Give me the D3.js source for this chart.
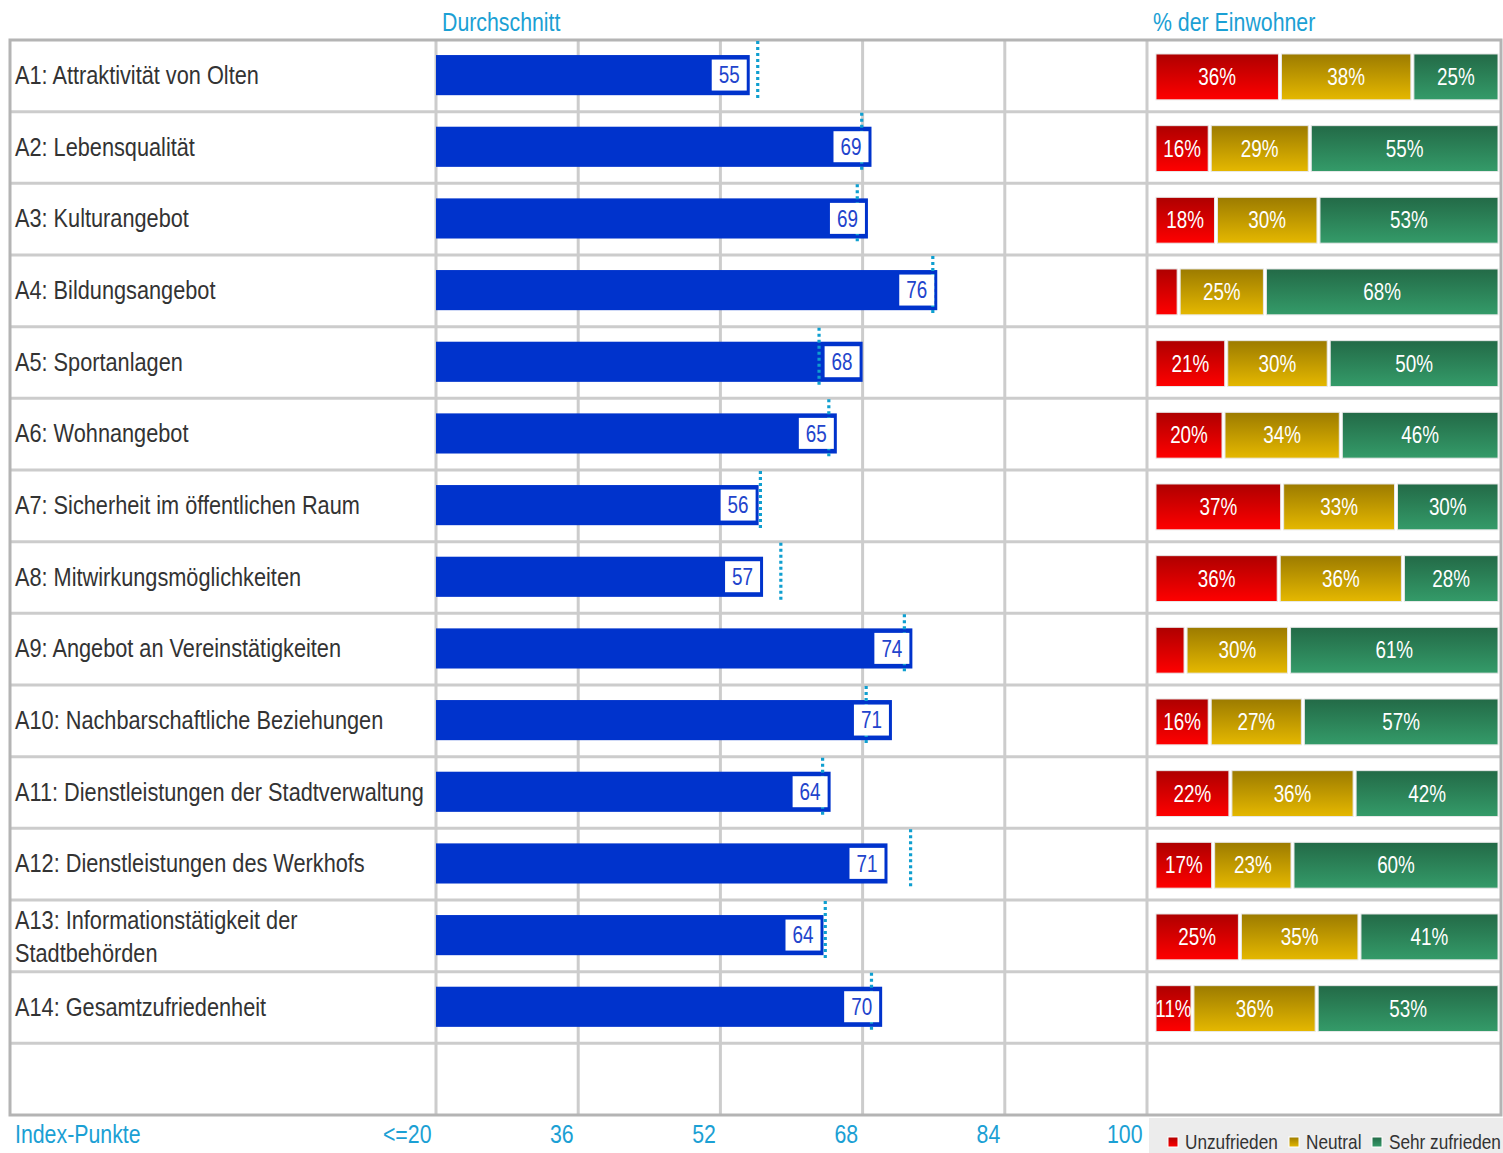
<!DOCTYPE html>
<html>
<head>
<meta charset="utf-8">
<script src="https://cdn.jsdelivr.net/npm/d3@7"></script>
<style>
  html, body { margin: 0; padding: 0; background: #ffffff; }
  svg { display: block; }
  text { font-family: "Liberation Sans", Arial, sans-serif; }
</style>
</head>
<body>
<svg id="chart" width="1503" height="1153"></svg>
<script>
// ---------- data ----------
const categories = [
  "A1: Attraktivität von Olten",
  "A2: Lebensqualität",
  "A3: Kulturangebot",
  "A4: Bildungsangebot",
  "A5: Sportanlagen",
  "A6: Wohnangebot",
  "A7: Sicherheit im öffentlichen Raum",
  "A8: Mitwirkungsmöglichkeiten",
  "A9: Angebot an Vereinstätigkeiten",
  "A10: Nachbarschaftliche Beziehungen",
  "A11: Dienstleistungen der Stadtverwaltung",
  "A12: Dienstleistungen des Werkhofs",
  "A13: Informationstätigkeit der Stadtbehörden",
  "A14: Gesamtzufriedenheit"
];
const indexValues   = [55.3, 69.0, 68.6, 76.4, 68.0, 65.1, 56.3, 56.8, 73.6, 71.3, 64.4, 70.8, 63.6, 70.2];
const averageValues = [56.2, 67.9, 67.4, 75.9, 63.1, 64.2, 56.5, 58.8, 72.7, 68.4, 63.5, 73.4, 63.8, 69.0];
const unzufrieden   = [36, 16, 18, 7, 21, 20, 37, 36, 9, 16, 22, 17, 25, 11];
const neutral       = [38, 29, 30, 25, 30, 34, 33, 36, 30, 27, 36, 23, 35, 36];
const sehrZufrieden = [25, 55, 53, 68, 50, 46, 30, 28, 61, 57, 42, 60, 41, 53];
const xTickValues = [20, 36, 52, 68, 84, 100];
const xTickLabels = ["<=20", "36", "52", "68", "84", "100"];
const legendLabels = ["Unzufrieden", "Neutral", "Sehr zufrieden"];
const titleIndex = "Durchschnitt";
const titleShare = "% der Einwohner";
const axisTitle = "Index-Punkte";

// ---------- layout ----------
const svg = d3.select("#chart");
const frame = { left: 10, right: 1501, top: 40, bottom: 1115 };
const cyan = "#1ba0d4";
const gridCol = "#cccccc";
const NARROW = 0.82;

// condense text horizontally (Arial-Narrow look)
function narrow(sel) {
  sel.each(function () {
    const t = d3.select(this);
    if (t.attr("x") != null) t.attr("x", +t.attr("x") / NARROW);
    if (t.attr("dx") != null) t.attr("dx", parseFloat(t.attr("dx")) / NARROW);
    t.attr("transform", `scale(${NARROW},1)`);
    t.selectAll("tspan").each(function () {
      const s = d3.select(this);
      if (s.attr("x") != null) s.attr("x", +s.attr("x") / NARROW);
    });
  });
  return sel;
}

const x = d3.scaleLinear().domain([20, 100]).range([436, 1147]);
const rows = d3.range(categories.length + 1);
const y = d3.scaleBand().domain(rows).range([frame.top, frame.bottom]).paddingInner(0).paddingOuter(0);
const bw = y.bandwidth();

// gradients
const defs = svg.append("defs");
const grads = [
  { id: "gRed", top: "#ae0000", bottom: "#ff0000" },
  { id: "gYel", top: "#9c7b00", bottom: "#e5b800" },
  { id: "gGrn", top: "#236a47", bottom: "#349b69" }
];
grads.forEach(g => {
  const lg = defs.append("linearGradient").attr("id", g.id)
    .attr("x1", 0).attr("y1", 0).attr("x2", 0).attr("y2", 1);
  lg.append("stop").attr("offset", "0%").attr("stop-color", g.top);
  lg.append("stop").attr("offset", "100%").attr("stop-color", g.bottom);
});

// row lines
svg.append("g").selectAll("line").data(rows.slice(1)).join("line")
  .attr("x1", frame.left).attr("x2", frame.right)
  .attr("y1", d => y(d)).attr("y2", d => y(d))
  .attr("stroke", gridCol).attr("stroke-width", 3);

// vertical grid lines
svg.append("g").selectAll("line").data(xTickValues).join("line")
  .attr("x1", d => x(d)).attr("x2", d => x(d))
  .attr("y1", frame.top).attr("y2", frame.bottom)
  .attr("stroke", gridCol).attr("stroke-width", 3);

// outer frame
svg.append("rect")
  .attr("x", frame.left).attr("y", frame.top)
  .attr("width", frame.right - frame.left).attr("height", frame.bottom - frame.top)
  .attr("fill", "none").attr("stroke", "#b4b4b4").attr("stroke-width", 3);

// category labels
const labelG = svg.append("g");
categories.forEach((c, i) => {
  const t = labelG.append("text")
    .attr("x", 15).attr("fill", "#333333").attr("font-size", 26.5)
    .attr("dominant-baseline", "central");
  t.text(c);
  const cy = y(i) + bw / 2;
  if (t.node().getComputedTextLength() * NARROW > 418) {
    const words = c.split(" ");
    const line2 = words.pop();
    t.text(null);
    t.append("tspan").attr("x", 15).attr("y", cy - 17).text(words.join(" "));
    t.append("tspan").attr("x", 15).attr("y", cy + 16).text(line2);
  } else {
    t.attr("y", cy - 1);
  }
  narrow(t);
});

// index bars
const barY = i => y(i) + bw * 0.21;
const barH = bw * 0.56;
svg.append("g").selectAll("rect").data(indexValues).join("rect")
  .attr("x", x(20)).attr("y", (d, i) => barY(i))
  .attr("width", d => x(d) - x(20)).attr("height", barH)
  .attr("fill", "#0033cc");

// average dotted lines
svg.append("g").selectAll("line").data(averageValues).join("line")
  .attr("x1", d => x(d)).attr("x2", d => x(d))
  .attr("y1", (d, i) => y(i) + 1).attr("y2", (d, i) => y(i) + bw * 0.84)
  .attr("stroke", "#0f9fd0").attr("stroke-width", 3.2)
  .attr("stroke-dasharray", "3,3");

// value boxes
const boxW = 35, boxH = 31;
const boxes = svg.append("g").selectAll("g").data(indexValues).join("g");
boxes.append("rect")
  .attr("x", d => x(d) - 3 - boxW).attr("y", (d, i) => barY(i) + 4.5)
  .attr("width", boxW).attr("height", boxH).attr("fill", "#ffffff");
narrow(boxes.append("text")
  .attr("x", d => x(d) - 3 - boxW / 2).attr("y", (d, i) => barY(i) + 4.5 + boxH / 2)
  .attr("text-anchor", "middle").attr("dominant-baseline", "central")
  .attr("font-size", 23).attr("fill", "#2244cc")
  .text(d => d3.format(".0f")(d)));

// stacked share bars
const shareSeries = [unzufrieden, neutral, sehrZufrieden];
const fills = ["url(#gRed)", "url(#gYel)", "url(#gGrn)"];
const stackRows = categories.map((c, i) => {
  const vals = shareSeries.map(s => s[i]);
  const total = d3.sum(vals);
  const sx = d3.scaleLinear().domain([0, total]).range([1156, 1501]);
  let acc = 0;
  return vals.map((v, k) => { const s = { i, k, v, x0: sx(acc), x1: sx(acc + v) }; acc += v; return s; });
}).flat();
const stackG = svg.append("g");
stackG.selectAll("rect").data(stackRows).join("rect")
  .attr("x", d => d.x0).attr("y", d => y(d.i) + bw * 0.195)
  .attr("width", d => d.x1 - d.x0 - 3).attr("height", bw * 0.64)
  .attr("fill", d => fills[d.k])
  .attr("stroke", "#e8e8e8").attr("stroke-width", 1);
narrow(stackG.selectAll("text").data(stackRows.filter(d => d.v >= 10)).join("text")
  .attr("x", d => (d.x0 + d.x1 - 3) / 2).attr("y", d => y(d.i) + bw * 0.195 + bw * 0.32)
  .attr("text-anchor", "middle").attr("dominant-baseline", "central")
  .attr("font-size", 23).attr("fill", "#ffffff")
  .text(d => d.v + "%"));

// headers
narrow(svg.append("text").attr("x", 442).attr("y", 31).attr("font-size", 26).attr("fill", cyan).text(titleIndex));
narrow(svg.append("text").attr("x", 1153).attr("y", 31).attr("font-size", 26).attr("fill", cyan).text(titleShare));

// x axis
const axis = d3.axisBottom(x).tickValues(xTickValues)
  .tickFormat((d, i) => xTickLabels[i]).tickSize(0).tickPadding(0);
const axG = svg.append("g").attr("transform", `translate(0,${frame.bottom})`).call(axis);
axG.select(".domain").remove();
narrow(axG.selectAll("text")
  .attr("text-anchor", "end").attr("x", 0).attr("dx", -5).attr("y", 28).attr("dy", 0)
  .attr("font-size", 26).attr("fill", cyan)
  .style("font-family", '"Liberation Sans", Arial, sans-serif'));
narrow(svg.append("text").attr("x", 15).attr("y", 1143).attr("font-size", 26).attr("fill", cyan).text(axisTitle));

// legend
svg.append("rect").attr("x", 1149).attr("y", 1118).attr("width", 1503 - 1149).attr("height", 35).attr("fill", "#ececec");
const legendX = [1168, 1289, 1372];
legendLabels.forEach((l, k) => {
  svg.append("rect").attr("x", legendX[k]).attr("y", 1137).attr("width", 10).attr("height", 10)
    .attr("fill", fills[k]).attr("stroke", "#ffffff").attr("stroke-width", 1);
  narrow(svg.append("text").attr("x", legendX[k] + 17).attr("y", 1149)
    .attr("font-size", 21).attr("fill", "#333333").text(l));
});
</script>
</body>
</html>
